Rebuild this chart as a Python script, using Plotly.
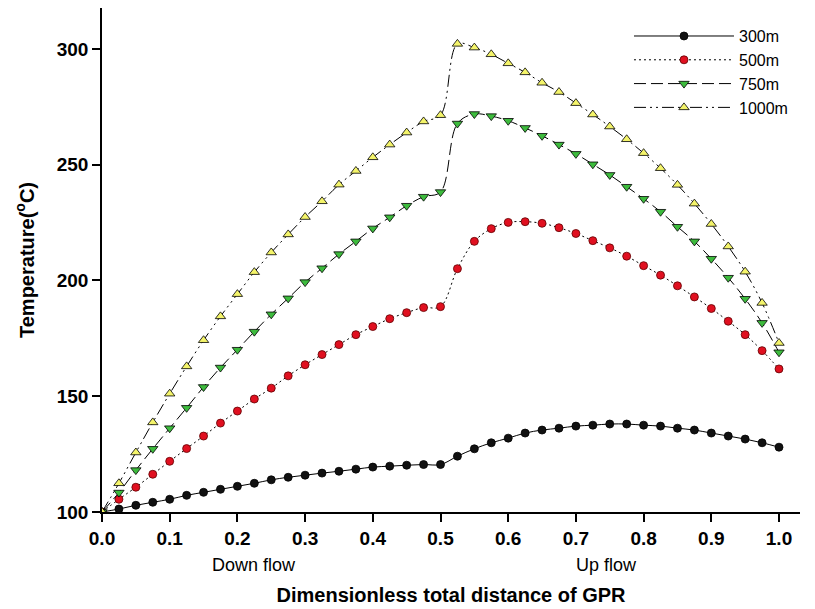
import plotly.graph_objects as go

x_vals = [round(i * 0.025, 3) for i in range(41)]

t_300 = [100.0, 101.3, 102.9, 104.2, 105.5, 107.2, 108.5, 109.8, 111.1, 112.4,
         113.9, 115.0, 115.9, 116.8, 117.6, 118.5, 119.4, 119.8, 120.2, 120.5,
         120.5, 124.1, 127.3, 129.9, 131.9, 134.1, 135.4, 136.2, 137.1, 137.5,
         138.0, 138.0, 137.5, 137.1, 136.2, 135.4, 134.1, 132.8, 131.5, 129.9,
         128.0]
t_500 = [100.0, 105.5, 110.7, 116.3, 121.9, 127.4, 132.8, 138.4, 143.6, 148.8,
         153.5, 158.8, 163.6, 168.0, 172.3, 176.6, 180.1, 183.5, 186.1, 188.3,
         188.7, 205.1, 216.9, 222.4, 225.1, 225.4, 224.7, 222.8, 220.3, 217.2,
         214.1, 210.5, 206.4, 202.3, 197.7, 192.9, 187.9, 182.4, 176.6, 169.7,
         161.8]
t_750 = [100.0, 108.4, 118.1, 127.3, 136.2, 145.0, 154.0, 162.4, 170.1, 177.9,
         185.4, 192.3, 199.3, 205.3, 211.4, 216.9, 222.5, 227.3, 232.3, 236.2,
         238.2, 267.8, 271.9, 271.0, 269.0, 265.9, 262.5, 258.7, 254.7, 250.2,
         245.6, 240.5, 235.3, 229.7, 223.2, 216.9, 209.4, 201.2, 192.1, 181.7,
         169.0]
t_1000 = [100.0, 112.4, 125.7, 138.7, 151.1, 162.9, 174.2, 184.5, 194.1, 203.6,
          212.1, 219.9, 227.4, 234.2, 241.4, 247.3, 253.2, 258.7, 263.9, 268.7,
          271.4, 302.2, 300.6, 297.7, 293.8, 289.9, 285.4, 281.4, 276.6, 271.7,
          266.5, 261.0, 255.0, 248.5, 241.3, 233.2, 224.4, 214.7, 203.8, 190.3,
          173.0]

series_names = ["300m", "500m", "750m", "1000m"]
x_ticks = [0.0, 0.1, 0.2, 0.3, 0.4, 0.5, 0.6, 0.7, 0.8, 0.9, 1.0]
y_ticks = [100, 150, 200, 250, 300]

styles = [
    dict(dash="solid", symbol="circle", color="#111111", size=8, lc="#000000"),
    dict(dash="2px,3px", symbol="circle", color="#e01020", size=8, lc="#600000"),
    dict(dash="12px,5px", symbol="triangle-down", color="#3dbb3d", size=9, lc="#000000"),
    dict(dash="12px,4px,2px,4px,2px,4px", symbol="triangle-up", color="#f4f46a", size=9, lc="#000000"),
]

fig = go.Figure()
for name, ys, st in zip(series_names, [t_300, t_500, t_750, t_1000], styles):
    fig.add_trace(go.Scatter(
        x=x_vals, y=ys, name=name, mode="lines+markers",
        line=dict(color="black", width=1, dash=st["dash"], shape="spline", smoothing=1.0),
        marker=dict(symbol=st["symbol"], color=st["color"], size=st["size"],
                    line=dict(color=st["lc"], width=0.8)),
    ))

font_family = "Liberation Sans, Arial, sans-serif"

fig.update_layout(
    width=815, height=609,
    margin=dict(l=94, r=23, t=0, b=105),
    plot_bgcolor="white", paper_bgcolor="white",
    font=dict(family=font_family, color="black"),
    showlegend=True,
    legend=dict(x=0.755, y=0.978, xanchor="left", yanchor="top",
                bgcolor="rgba(0,0,0,0)", font=dict(size=16),
                itemwidth=100, tracegroupgap=0),
    xaxis=dict(range=[0, 1.031], tickvals=x_ticks, ticktext=[f"{v:.1f}" for v in x_ticks],
               showline=True, linecolor="black", linewidth=1.5,
               ticks="outside", ticklen=8, tickwidth=1.5, tickcolor="black",
               showgrid=False, zeroline=False,
               tickfont=dict(size=19, family=font_family, weight="bold"),
               title=dict(text="<b>Dimensionless total distance of GPR</b>",
                          font=dict(size=20), standoff=40)),
    yaxis=dict(range=[100, 317.7], tickvals=y_ticks,
               showline=True, linecolor="black", linewidth=1.5,
               ticks="outside", ticklen=8, tickwidth=1.5, tickcolor="black",
               showgrid=False, zeroline=False,
               tickfont=dict(size=19, family=font_family, weight="bold"),
               title=dict(text="<b>Temperature(<sup>o</sup>C)</b>",
                          font=dict(size=20), standoff=17)),
    annotations=[
        dict(text="Down flow", x=0.225, xref="x", y=-0.105, yref="paper",
             showarrow=False, font=dict(size=18), xanchor="center", yanchor="middle"),
        dict(text="Up flow", x=0.745, xref="x", y=-0.105, yref="paper",
             showarrow=False, font=dict(size=18), xanchor="center", yanchor="middle"),
    ],
)

fig.write_html("out.html")
